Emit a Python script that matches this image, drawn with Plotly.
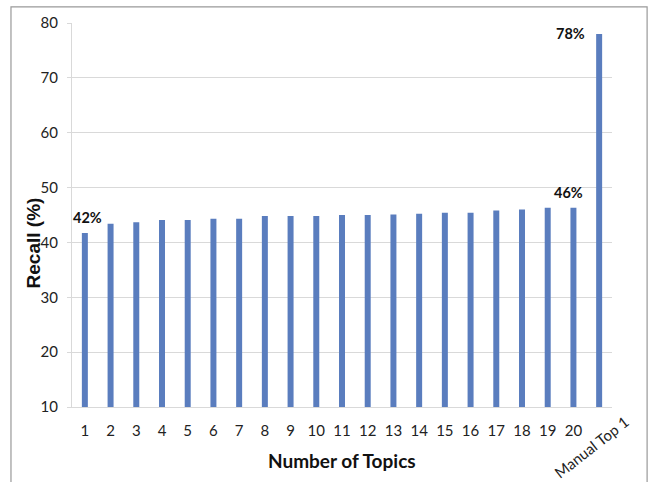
import plotly.graph_objects as go

# Recall for each number of topics, plus the manual top-1 baseline
categories = [str(i) for i in range(1, 21)] + ["Manual Top 1"]
recall = [41.7, 43.4, 43.7, 44.1, 44.1, 44.3, 44.3, 44.8, 44.8, 44.8,
          45.0, 45.0, 45.1, 45.25, 45.4, 45.4, 45.8, 46.0, 46.3, 46.3, 78.0]
y_ticks = [10, 20, 30, 40, 50, 60, 70, 80]

# Bars that carry a percentage label: (index, xshift, yshift)
labelled = [(0, 3, 16), (19, -5, 15), (20, -29, 0)]

BAR = "#5A7DBE"
GRID = "#d9d9d9"
TICK_FONT = dict(family="Lato, Open Sans, sans-serif", size=15, color="#222")

fig = go.Figure(go.Bar(x=categories, y=recall, marker_color=BAR, marker_line_width=0))

annotations = []
for i, dx, dy in labelled:
    # category axes place annotations by category index
    annotations.append(dict(
        x=i, y=recall[i], xref="x", yref="y",
        text=f"<b>{round(recall[i])}%</b>", showarrow=False,
        xshift=dx, yshift=dy,
        font=dict(family="Lato, Open Sans, sans-serif", size=14.5, color="#111"),
        xanchor="center", yanchor="middle",
    ))

# Rotated label for the last category
annotations.append(dict(
    x=len(categories) - 1, y=-0.104, xref="x", yref="paper",
    text=categories[-1], showarrow=False, textangle=-38, xshift=-8,
    font=TICK_FONT, xanchor="center", yanchor="middle",
))

# Axis titles
annotations.append(dict(
    x=0.5, y=-0.139, xref="paper", yref="paper", text="<b>Number of Topics</b>",
    showarrow=False, xanchor="center", yanchor="middle",
    font=dict(family="Lato, Open Sans, sans-serif", size=19, color="#111"),
))
annotations.append(dict(
    x=-0.0722, y=0.426, xref="paper", yref="paper", text="<b>Recall (%)</b>",
    showarrow=False, textangle=-90, xanchor="center", yanchor="middle",
    font=dict(family="Liberation Sans, Arial, sans-serif", size=19, color="#111"),
))

fig.update_layout(
    width=654, height=482,
    margin=dict(l=72, r=42, t=23, b=75),
    paper_bgcolor="white", plot_bgcolor="white",
    bargap=0.767, showlegend=False,
    annotations=annotations,
    shapes=[dict(type="rect", xref="paper", yref="paper",
                 x0=-0.113, x1=1.065, y0=-0.25, y1=1.042,
                 line=dict(color="#999999", width=1.2), fillcolor="rgba(0,0,0,0)", layer="below")],
)

fig.update_xaxes(
    type="category", tickvals=categories,
    ticktext=categories[:-1] + [""],
    tickfont=TICK_FONT, ticks="", ticklabelstandoff=10,
    showgrid=False, showline=True, linecolor=GRID, linewidth=1,
    range=[-0.5, len(categories) - 0.5],
)
fig.update_yaxes(
    range=[10, 80], tickvals=y_ticks, tickfont=TICK_FONT,
    ticks="outside", ticklen=4, tickcolor=GRID, ticklabelstandoff=6,
    showgrid=True, gridcolor=GRID, gridwidth=1,
    showline=True, linecolor=GRID, linewidth=1, zeroline=False,
)

fig.write_html("out.html")
